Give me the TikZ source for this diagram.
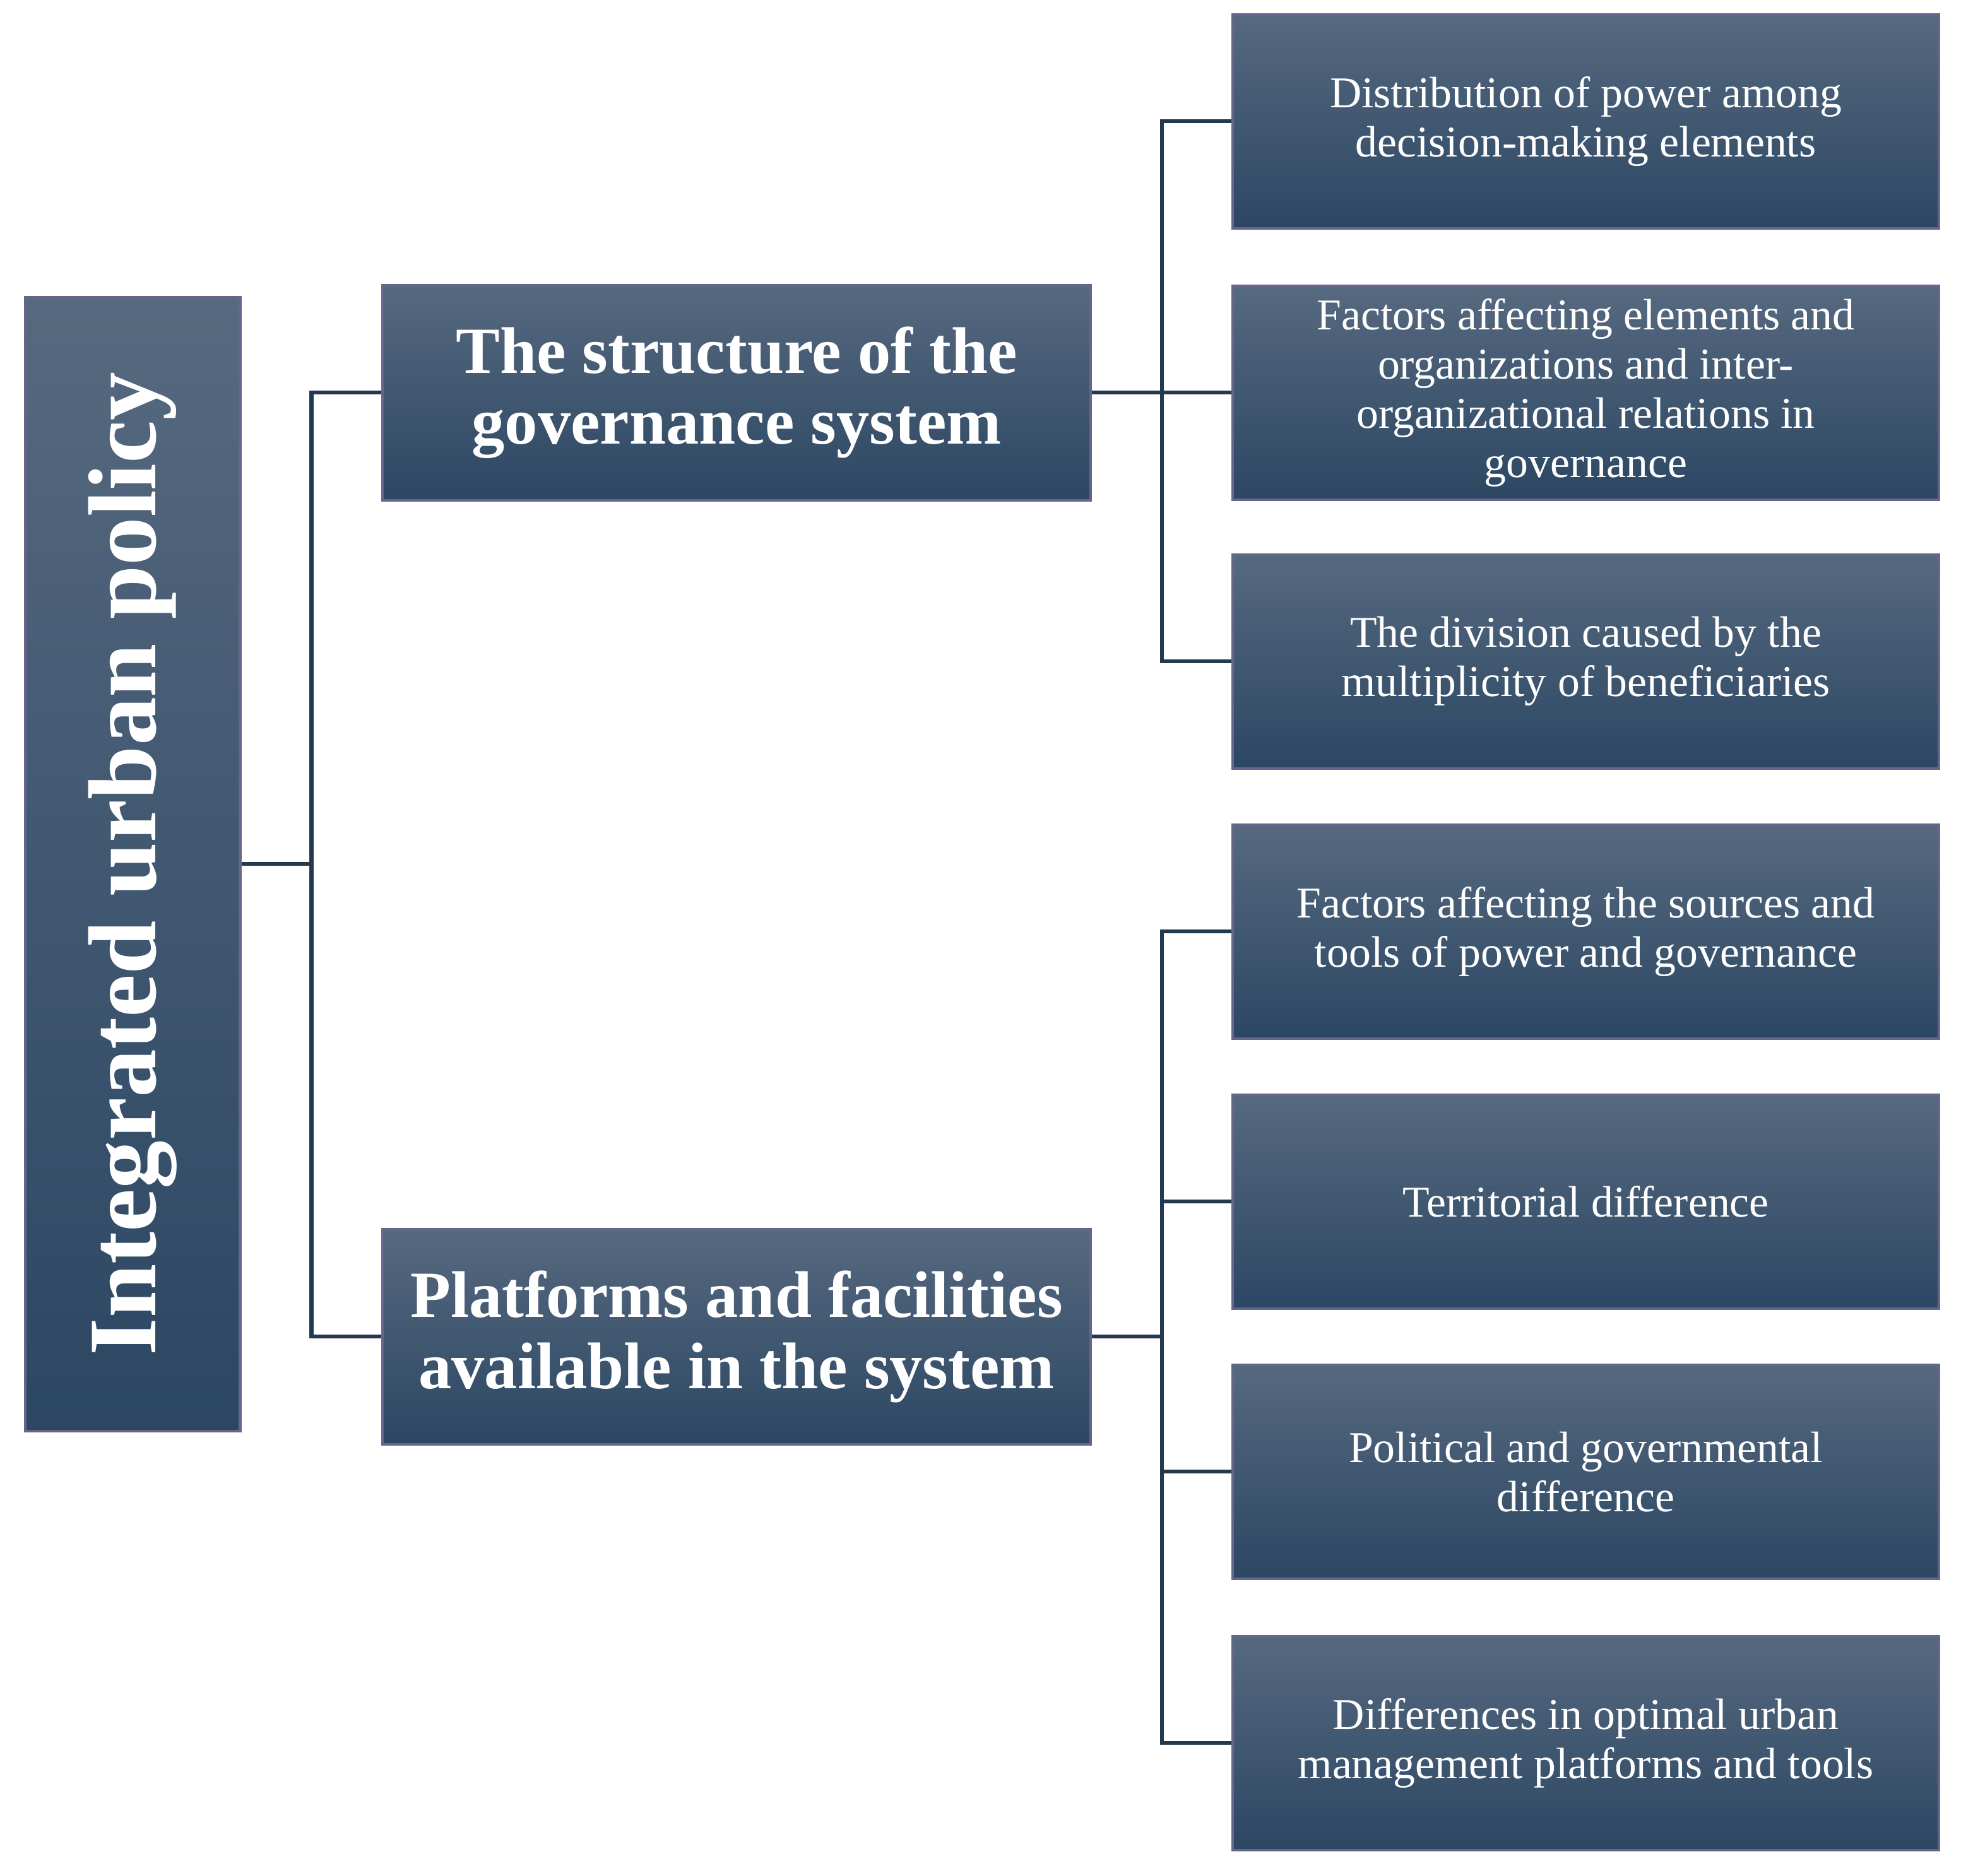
\documentclass[tikz,border=0pt]{standalone}
\usepackage{fontspec}
\setmainfont{Liberation Serif}
\begin{document}
\begin{tikzpicture}[x=0.01cm,y=-0.01cm,
 box/.style={draw=black!25!blue!20!gray,line width=0.6pt,top color=bluetop,bottom color=bluebot,text=white,inner sep=0pt},
 rbox/.style={box,minimum width=565*0.01cm,minimum height=171*0.01cm,align=center,font=\fontsize{10}{11.2}\selectfont},
 mbox/.style={box,minimum width=566*0.01cm,minimum height=172*0.01cm,align=center,font=\fontsize{15}{16.2}\selectfont\bfseries},
 ln/.style={draw=bluebot!80!black,line width=0.9pt}]
\definecolor{bluetop}{HTML}{56697F}
\definecolor{bluebot}{HTML}{2C4763}
\useasboundingbox (0,0) rectangle (1568,1500);
\node[box,minimum width=172*0.01cm,minimum height=907*0.01cm] (L) at (106,691) {};
\node[text=white,rotate=90,font=\fontsize{22}{24}\selectfont\bfseries] (Lt) at (106,691) {Integrated urban policy};
\node[mbox] (M1) at (589,314) {The structure of the\\governance system};
\node[mbox] (M2) at (589,1069) {Platforms and facilities\\available in the system};
\node[rbox] (R1) at (1268,97) {Distribution of power among\\decision-making elements};
\node[rbox] (R2) at (1268,314) {Factors affecting elements and\\organizations and inter-\\organizational relations in\\governance};
\node[rbox] (R3) at (1268,529) {The division caused by the\\multiplicity of beneficiaries};
\node[rbox] (R4) at (1268,745) {Factors affecting the sources and\\tools of power and governance};
\node[rbox] (R5) at (1268,961) {Territorial difference};
\node[rbox] (R6) at (1268,1177) {Political and governmental\\difference};
\node[rbox] (R7) at (1268,1394) {Differences in optimal urban\\management platforms and tools};
\coordinate (a) at (249,691);
\coordinate (b) at (929,314);
\coordinate (c) at (929,1069);
\draw[ln] (L.east|-a) -- (a) (a) |- (M1.west) (a) |- (M2.west);
\draw[ln] (M1.east) -- (b) (b) |- (R1.west) (b) -- (R2.west) (b) |- (R3.west);
\draw[ln] (M2.east) -- (c) (c) |- (R4.west) (c) |- (R5.west) (c) |- (R6.west) (c) |- (R7.west);
\end{tikzpicture}
\end{document}
